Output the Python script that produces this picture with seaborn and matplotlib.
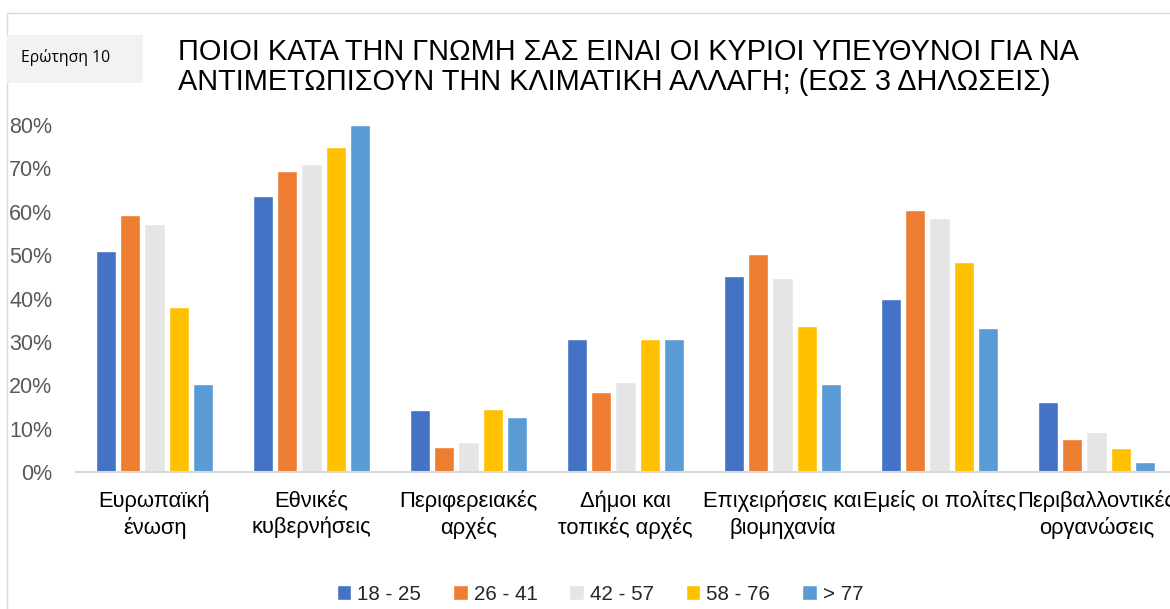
import matplotlib
matplotlib.use("Agg")
import matplotlib.pyplot as plt
from matplotlib.patches import Rectangle
from matplotlib.ticker import PercentFormatter, FixedLocator
import seaborn as sns
import pandas as pd

# Data
categories = [
    "Ευρωπαϊκή\nένωση",
    "Εθνικές\nκυβερνήσεις",
    "Περιφερειακές\nαρχές",
    "Δήμοι και\nτοπικές αρχές",
    "Επιχειρήσεις και\nβιομηχανία",
    "Εμείς οι πολίτες",
    "Περιβαλλοντικές\nοργανώσεις",
]
age_groups = ["18 - 25", "26 - 41", "42 - 57", "58 - 76", "> 77"]

age_18_25 = [0.51, 0.636, 0.144, 0.308, 0.453, 0.399, 0.161]
age_26_41 = [0.593, 0.693, 0.058, 0.186, 0.504, 0.604, 0.077]
age_42_57 = [0.572, 0.71, 0.07, 0.208, 0.448, 0.586, 0.092]
age_58_76 = [0.381, 0.75, 0.145, 0.307, 0.336, 0.484, 0.057]
age_77 = [0.203, 0.80, 0.127, 0.307, 0.203, 0.332, 0.024]

colors = ["#4472C4", "#ED7D31", "#E5E5E5", "#FFC000", "#5B9BD5"]

series = [age_18_25, age_26_41, age_42_57, age_58_76, age_77]
rows = []
for group, values in zip(age_groups, series):
    for cat, v in zip(categories, values):
        rows.append({"category": cat, "age": group, "share": v})
df = pd.DataFrame(rows)

sns.set_style("white")
plt.rcParams["font.family"] = ["Liberation Sans", "DejaVu Sans"]

fig = plt.figure(figsize=(11.7, 6.09), dpi=100)
ax = fig.add_axes([76 / 1170, 136.7 / 609, 1099 / 1170, 347.3 / 609])

sns.barplot(
    data=df, x="category", y="share", hue="age",
    order=categories, hue_order=age_groups,
    palette=dict(zip(age_groups, colors)), saturation=1,
    width=0.77, gap=0.17, ax=ax, legend=True,
)

# Axes styling
ax.set_ylim(0, 0.8)
ax.set_xlim(-0.5, len(categories) - 0.5)
ax.yaxis.set_major_formatter(PercentFormatter(1.0, decimals=0))
ax.set_yticks([i / 10 for i in range(9)])
ax.set_xlabel("")
ax.set_ylabel("")
for side in ["top", "right", "left"]:
    ax.spines[side].set_visible(False)
ax.spines["bottom"].set_color("#D9D9D9")
ax.spines["bottom"].set_linewidth(1.5)

ax.tick_params(axis="y", length=0, pad=17, labelsize=15.5, labelcolor="#595959")
ax.tick_params(axis="x", which="major", length=0, pad=13, labelsize=15.8, labelcolor="#000000")
ax.xaxis.set_minor_locator(FixedLocator([i - 0.5 for i in range(len(categories) + 1)]))
ax.tick_params(axis="x", which="minor", length=7, width=1.5, color="#D9D9D9", direction="out")
for lab in ax.get_xticklabels():
    lab.set_linespacing(1.3)

# Legend
handles, labels = ax.get_legend_handles_labels()
ax.legend_.remove()
fig.legend(
    handles, labels, loc="center", bbox_to_anchor=(600 / 1170, 15 / 609),
    ncol=5, frameon=False, fontsize=14.8, handlelength=0.7, handleheight=0.7,
    handletextpad=0.3, columnspacing=1.55,
)

# Chart frame and headers
fig.patches.append(Rectangle((7 / 1170, -0.1), 1.2, 1.1 - 13 / 609,
                             transform=fig.transFigure, fill=False,
                             edgecolor="#D9D9D9", linewidth=1, zorder=0))
fig.patches.append(Rectangle((7 / 1170, (609 - 83) / 609), 136 / 1170, 48 / 609,
                             transform=fig.transFigure, facecolor="#F2F2F2",
                             edgecolor="none", zorder=0))
fig.text(66 / 1170, (609 - 57) / 609, "Ερώτηση 10", ha="center", va="center",
         fontsize=11.3, color="#000000", family=["Open Sans", "DejaVu Sans"])
fig.text(178 / 1170, (609 - 67) / 609,
         "ΠΟΙΟΙ ΚΑΤΑ ΤΗΝ ΓΝΩΜΗ ΣΑΣ ΕΙΝΑΙ ΟΙ ΚΥΡΙΟΙ ΥΠΕΥΘΥΝΟΙ ΓΙΑ ΝΑ\n"
         "ΑΝΤΙΜΕΤΩΠΙΣΟΥΝ ΤΗΝ ΚΛΙΜΑΤΙΚΗ ΑΛΛΑΓΗ; (ΕΩΣ 3 ΔΗΛΩΣΕΙΣ)",
         ha="left", va="center", fontsize=20.8, color="#000000", linespacing=1.05)

fig.savefig("out.png", dpi=100)
